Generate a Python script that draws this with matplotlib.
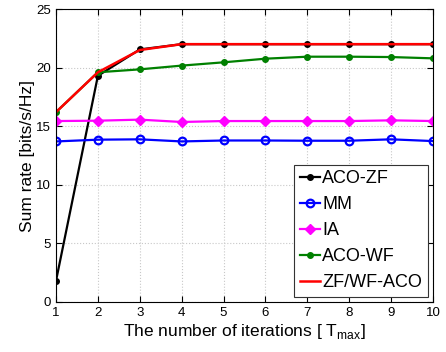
import numpy as np
import matplotlib
matplotlib.use('Agg')
import matplotlib.pyplot as plt

plt.rcParams['font.family'] = ['Liberation Sans', 'DejaVu Sans']

iterations = [1, 2, 3, 4, 5, 6, 7, 8, 9, 10]
aco_zf = [1.8, 19.3, 21.55, 22.0, 22.0, 22.0, 22.0, 22.0, 22.0, 22.0]
mm = [13.7, 13.85, 13.88, 13.7, 13.78, 13.78, 13.76, 13.76, 13.88, 13.73]
ia = [15.44, 15.47, 15.56, 15.36, 15.44, 15.44, 15.44, 15.44, 15.5, 15.44]
aco_wf = [16.2, 19.6, 19.85, 20.17, 20.45, 20.76, 20.93, 20.93, 20.9, 20.79]
zf_wf_aco = [16.2, 19.6, 21.5, 22.0, 22.0, 22.0, 22.0, 22.0, 22.0, 22.0]

fig = plt.figure(figsize=(4.46, 3.52), dpi=100)
ax = fig.add_axes([56/446, 50/352, 377/446, 293/352])

ax.plot(iterations, aco_zf, '-o', color='black', lw=1.6, ms=4, label='ACO-ZF')
ax.plot(iterations, mm, '-o', color='blue', lw=1.6, ms=5.5, mfc='none', mew=1.6, label='MM')
ax.plot(iterations, ia, '-D', color='magenta', lw=1.6, ms=5, label='IA')
ax.plot(iterations, aco_wf, '-o', color='green', lw=1.6, ms=4, label='ACO-WF')
ax.plot(iterations, zf_wf_aco, '-', color='red', lw=1.8, label='ZF/WF-ACO')

ax.set_xlim(1, 10)
ax.set_ylim(0, 25)
ax.set_xticks(range(1, 11))
ax.set_yticks([0, 5, 10, 15, 20, 25])
ax.tick_params(direction='in', top=True, right=True, labelsize=9.5, length=4)
ax.grid(True, color='#c8c8c8', linestyle=':', lw=0.8)
ax.set_xlabel(r'The number of iterations [ T$_{\mathregular{max}}$]', fontsize=12.5, labelpad=2)
ax.set_ylabel('Sum rate [bits/s/Hz]', fontsize=12.5, labelpad=1)

leg = ax.legend(loc='lower right', fontsize=13, handlelength=1.1, handletextpad=0.15,
                fancybox=False, framealpha=1, edgecolor='#333333',
                borderpad=0.3, labelspacing=0.5, borderaxespad=0.3)
leg.get_frame().set_linewidth(0.8)

fig.savefig('out.png', dpi=100)
